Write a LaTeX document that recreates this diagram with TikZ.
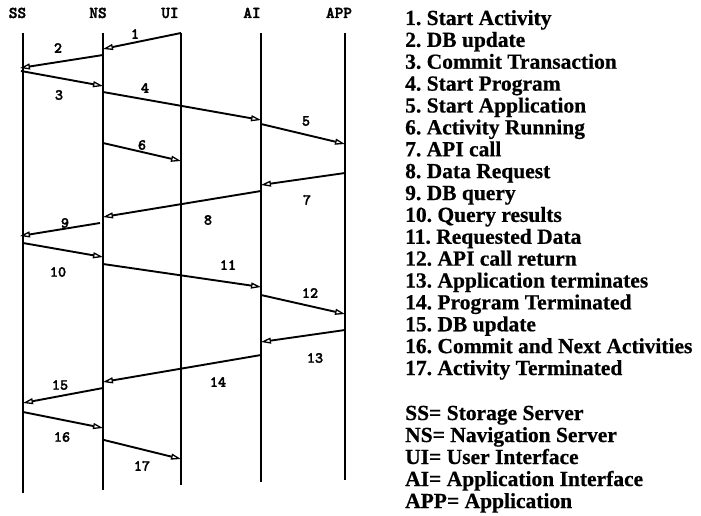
\documentclass[tikz,border=0pt]{standalone}
\usepackage{fontspec}
\setmainfont{Liberation Serif}[BoldFeatures={FakeBold=0.6}]
\newfontfamily\monofam{lmmonolt10-bold}[Extension=.otf,FakeBold=2]
\usetikzlibrary{arrows.meta}
\frenchspacing
\begin{document}
\begin{tikzpicture}[x=1pt,y=-1pt,
  lifeline/.style={line width=2pt},
  msg/.style={line width=1.9pt,-{Triangle[open,length=10pt,width=6pt,line width=1.3pt]}},
  hdr/.style={font=\monofam\fontsize{16.5}{16}\selectfont,anchor=base,inner sep=0pt},
  num/.style={font=\monofam\fontsize{15.5}{15}\selectfont,inner sep=0pt},
  leg/.style={font=\bfseries\fontsize{21.5}{22}\selectfont,anchor=base west,inner sep=0pt}]
\useasboundingbox (0,0) rectangle (701,516);

% headers
\node[hdr] (hSS) at (17.5,18) {SS};
\node[hdr] (hNS) at (98,18) {NS};
\node[hdr] (hUI) at (170,18) {UI};
\node[hdr] (hAI) at (252,18) {AI};
\node[hdr] (hAPP) at (339,18) {APP};

% lifelines
\coordinate (ssT) at (23,33);  \coordinate (ssB) at (23,493);
\coordinate (nsT) at (103,33); \coordinate (nsB) at (103,490);
\coordinate (uiT) at (181,33); \coordinate (uiB) at (181,485);
\coordinate (aiT) at (261,33); \coordinate (aiB) at (261,482);
\coordinate (apT) at (345,33); \coordinate (apB) at (345,480);
\draw[lifeline] (ssT) -- (ssB);
\draw[lifeline] (nsT) -- (nsB);
\draw[lifeline] (uiT) -- (uiB);
\draw[lifeline] (aiT) -- (aiB);
\draw[lifeline] (apT) -- (apB);

% messages
\foreach \i/\xa/\ya/\xb/\yb/\lx/\ly in {
  1/181/33/103/49/135/34,
  2/103/55/20/68/58/48,
  3/21/71/103/86/59/95,
  4/103/92/261/120/145/88,
  5/261/124/345/144/306/121,
  6/103/143/181/161/142/145,
  7/345/173/261/185/307/200,
  8/261/191/103/217/208/220,
  9/100/223/20/236/65/223,
  10/23/243/103/257/58/272,
  11/103/264/261/287/228/265,
  12/261/295/345/314/310/293,
  13/345/330/261/342/315/358,
  14/261/355/103/382/218/382,
  15/103/388/23/403/60/385,
  16/23/412/103/428/62/437,
  17/104/440/181/459/142/466}{
  \coordinate (s\i) at (\xa,\ya);
  \coordinate (e\i) at (\xb,\yb);
  \draw[msg] (s\i) -- (e\i);
  \node[num] (n\i) at (\lx,\ly) {\i};
}

% legend
\foreach \k/\t in {
  1/Start Activity, 2/DB update, 3/Commit Transaction, 4/Start Program,
  5/Start Application, 6/Activity Running, 7/API call, 8/Data Request,
  9/DB query, 10/Query results, 11/Requested Data, 12/API call return,
  13/Application terminates, 14/Program Terminated, 15/DB update,
  16/Commit and Next Activities, 17/Activity Terminated}{
  \node[leg] (l\k) at (405,{25+(\k-1)*21.875}) {\k.\ \t};
}
\node[leg] (d1) at (405,420) {SS= Storage Server};
\node[leg] (d2) at (405,442) {NS= Navigation Server};
\node[leg] (d3) at (405,464) {UI= User Interface};
\node[leg] (d4) at (405,486) {AI= Application Interface};
\node[leg] (d5) at (405,508) {APP= Application};
\end{tikzpicture}
\end{document}
